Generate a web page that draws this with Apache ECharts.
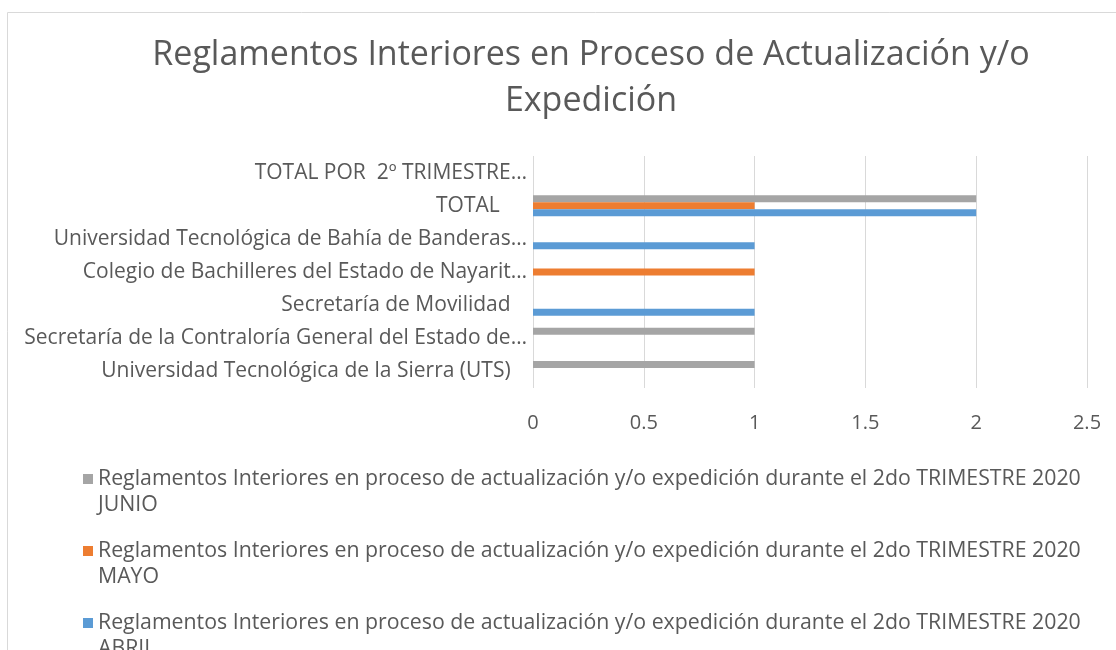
<!DOCTYPE html>
<html>
<head>
<meta charset="utf-8">
<title>Reglamentos Interiores</title>
<script src="https://cdn.jsdelivr.net/npm/echarts@6/dist/echarts.min.js"></script>
<style>
  html, body { margin: 0; padding: 0; background: #fff; overflow: hidden; }
  #chart { width: 1182px; height: 650px; }
</style>
</head>
<body>
<div id="chart"></div>
<script>
  // categorias, de abajo hacia arriba (como en Excel)
  var categorias = [
    'Universidad Tecnológica de la Sierra (UTS)   ',
    'Secretaría de la Contraloría General del Estado de…',
    'Secretaría de Movilidad   ',
    'Colegio de Bachilleres del Estado de Nayarit…',
    'Universidad Tecnológica de Bahía de Banderas…',
    'TOTAL     ',
    'TOTAL POR  2º TRIMESTRE…'
  ]
  var abril = [0, 0, 1, 0, 1, 2, 0]
  var mayo  = [0, 0, 0, 1, 0, 1, 0]
  var junio = [1, 1, 0, 0, 0, 2, 0]
  var ticksX = [0, 0.5, 1, 1.5, 2, 2.5]

  var prefijo = 'Reglamentos Interiores en proceso de actualización y/o expedición durante el 2do TRIMESTRE 2020 '
  var gris = '#595959'
  var fuente = '"Open Sans", sans-serif'

  var chart = echarts.init(document.getElementById('chart'))

  function serie (mes, datos, color) {
    return {
      name: prefijo + mes,
      type: 'bar',
      data: datos,
      barWidth: 7,
      barGap: '0%',
      itemStyle: { color: color },
      silent: true
    }
  }

  chart.setOption({
    animation: false,
    textStyle: { fontFamily: fuente },
    graphic: [{
      type: 'rect',
      shape: { x: 7.5, y: 12.5, width: 1300, height: 800 },
      style: { fill: 'none', stroke: '#d9d9d9', lineWidth: 1 }
    }],
    title: {
      text: 'Reglamentos Interiores en Proceso de Actualización y/o\nExpedición',
      left: 'center',
      top: 32,
      padding: 0,
      textStyle: {
        fontFamily: fuente,
        fontSize: 34,
        fontWeight: 'normal',
        color: gris,
        lineHeight: 46
      }
    },
    legend: {
      orient: 'vertical',
      left: 83,
      top: 440,
      height: 500,
      padding: 0,
      itemWidth: 10,
      itemHeight: 10,
      itemGap: -6,
      icon: 'rect',
      selectedMode: false,
      data: [prefijo + 'JUNIO', prefijo + 'MAYO', prefijo + 'ABRIL'],
      formatter: function (name) {
        // linea vacia arriba para que el icono quede junto a la primera linea
        return ' \n' + name.replace(/ (\S+)$/, '\n$1')
      },
      textStyle: {
        fontFamily: fuente,
        fontSize: 21.3,
        color: gris,
        lineHeight: 26
      }
    },
    grid: { left: 533, top: 156, width: 554, height: 232, containLabel: false },
    xAxis: {
      type: 'value',
      min: 0,
      max: 2.5,
      interval: 0.5,
      axisLine: { show: false },
      axisTick: { show: false },
      splitLine: { lineStyle: { color: '#d9d9d9', width: 1 } },
      axisLabel: {
        margin: 25,
        fontSize: 20,
        color: gris,
        fontFamily: fuente,
        formatter: function (v) {
          var t = ticksX.filter(function (x) { return Math.abs(x - v) < 1e-9 })
          return t.length ? String(t[0]) : ''
        }
      }
    },
    yAxis: {
      type: 'category',
      data: categorias,
      axisLine: { show: false },
      axisTick: { show: false },
      axisLabel: {
        margin: 6,
        fontSize: 21,
        color: gris,
        fontFamily: fuente,
        interval: 0
      }
    },
    // JUNIO primero para que quede arriba dentro de cada grupo
    series: [
      serie('JUNIO', junio, '#A5A5A5'),
      serie('MAYO', mayo, '#ED7D31'),
      serie('ABRIL', abril, '#5B9BD5')
    ]
  })
</script>
</body>
</html>
